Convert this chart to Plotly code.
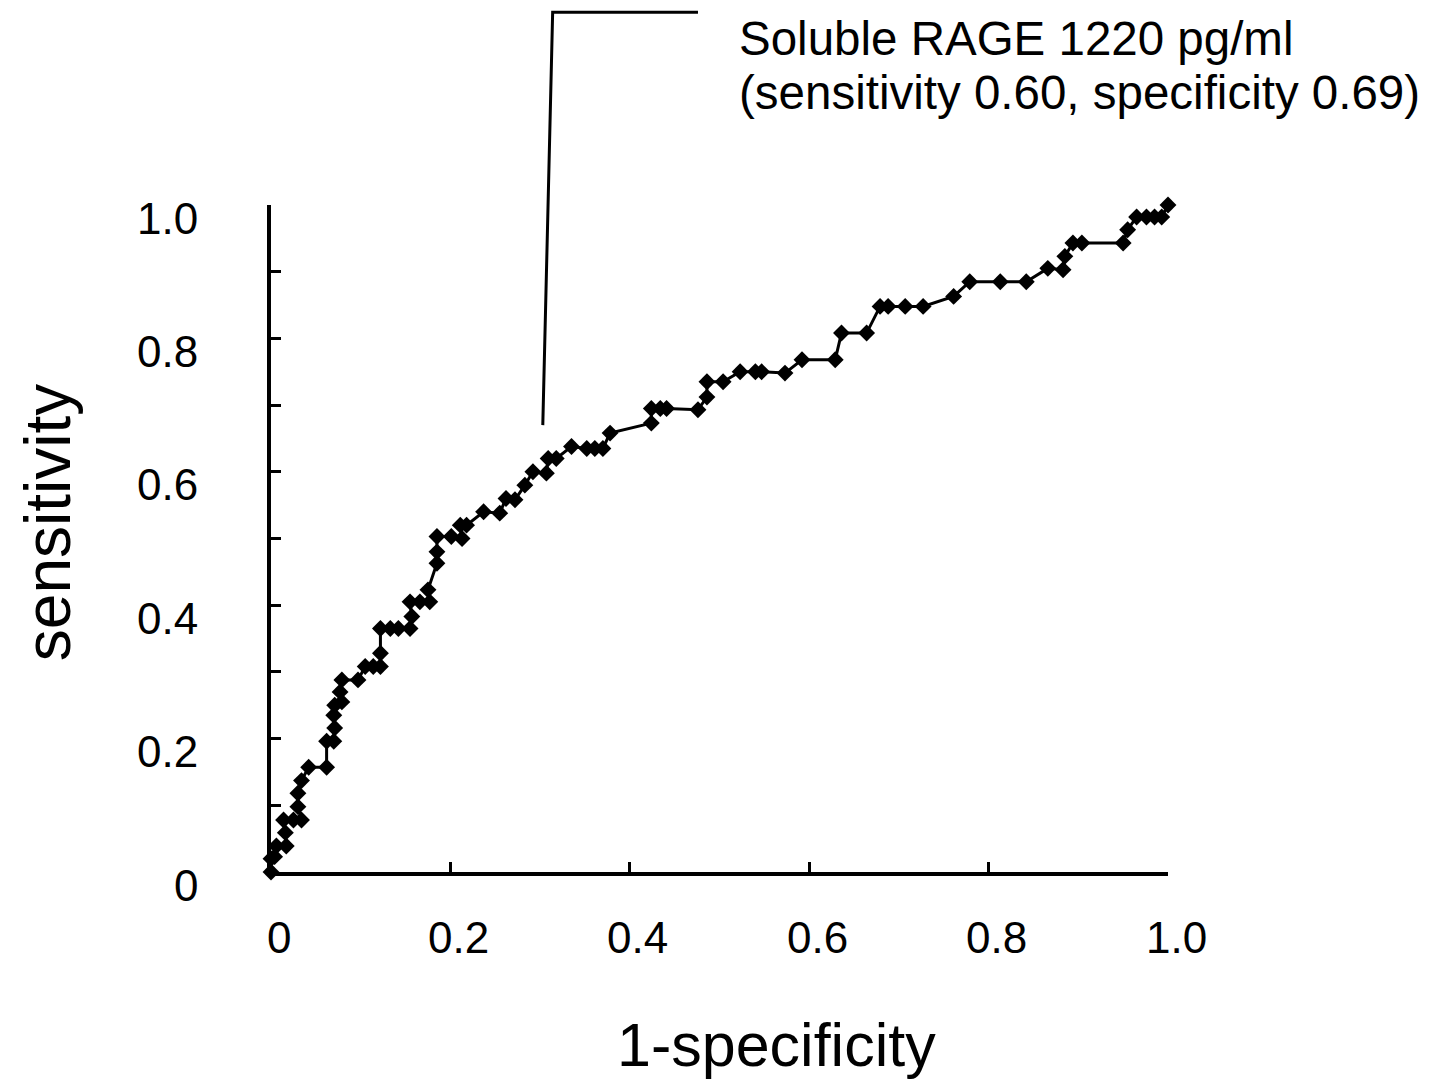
import plotly.graph_objects as go

# ROC curve points (1-specificity, sensitivity)
fpr = [0.000, 0.000, 0.004, 0.006, 0.017, 0.016, 0.014, 0.025, 0.034, 0.030,
       0.030, 0.034, 0.042, 0.062, 0.062, 0.070, 0.071, 0.070, 0.071, 0.079,
       0.077, 0.079, 0.097, 0.105, 0.114, 0.122, 0.122, 0.122, 0.133, 0.142,
       0.155, 0.157, 0.155, 0.166, 0.177, 0.175, 0.185, 0.185, 0.185, 0.201,
       0.213, 0.211, 0.218, 0.237, 0.255, 0.262, 0.272, 0.283, 0.292, 0.307,
       0.309, 0.318, 0.335, 0.352, 0.361, 0.370, 0.378, 0.424, 0.424, 0.434,
       0.441, 0.476, 0.486, 0.486, 0.504, 0.523, 0.540, 0.547, 0.573, 0.592,
       0.629, 0.636, 0.664, 0.679, 0.688, 0.707, 0.727, 0.761, 0.779, 0.813,
       0.842, 0.866, 0.883, 0.885, 0.894, 0.904, 0.950, 0.955, 0.965, 0.976,
       0.985, 0.993, 1.000]
tpr = [0.000, 0.020, 0.023, 0.039, 0.039, 0.059, 0.078, 0.078, 0.078, 0.098,
       0.118, 0.137, 0.157, 0.157, 0.196, 0.196, 0.216, 0.235, 0.250, 0.255,
       0.270, 0.288, 0.288, 0.308, 0.308, 0.308, 0.328, 0.365, 0.365, 0.365,
       0.365, 0.383, 0.405, 0.405, 0.405, 0.423, 0.463, 0.480, 0.503, 0.503,
       0.500, 0.520, 0.520, 0.540, 0.538, 0.560, 0.558, 0.580, 0.600, 0.598,
       0.620, 0.620, 0.638, 0.635, 0.635, 0.635, 0.658, 0.673, 0.695, 0.695,
       0.695, 0.693, 0.712, 0.735, 0.735, 0.750, 0.750, 0.750, 0.748, 0.768,
       0.768, 0.808, 0.808, 0.848, 0.848, 0.848, 0.848, 0.863, 0.885, 0.885,
       0.885, 0.905, 0.903, 0.923, 0.943, 0.943, 0.943, 0.963, 0.982, 0.982,
       0.982, 0.982, 1.000]

x_tick_vals = [0, 0.2, 0.4, 0.6, 0.8, 1.0]
x_tick_text = ["0", "0.2", "0.4", "0.6", "0.8", "1.0"]
y_tick_vals = [0, 0.2, 0.4, 0.6, 0.8, 1.0]
y_tick_text = ["0", "0.2", "0.4", "0.6", "0.8", "1.0"]
y_minor_vals = [0, 0.1, 0.2, 0.3, 0.4, 0.5, 0.6, 0.7, 0.8, 0.9, 1.0]

callout_line1 = "Soluble RAGE 1220 pg/ml"
callout_line2 = "(sensitivity 0.60, specificity 0.69)"
# callout leader line (paper coords == data coords, axes span [0,1])
callout_x = [0.303, 0.314, 0.476]
callout_y = [0.670, 1.289, 1.289]

x_title = "1-specificity"
y_title = "sensitivity"

FONT = "Arial, Liberation Sans, sans-serif"

fig = go.Figure()
fig.add_trace(go.Scatter(
    x=fpr, y=tpr, mode="lines+markers",
    line=dict(color="black", width=3),
    marker=dict(symbol="diamond", size=13, color="black"),
    cliponaxis=False, showlegend=False, hoverinfo="x+y",
))

path = "M {} {} L {} {} L {} {}".format(
    callout_x[0], callout_y[0], callout_x[1], callout_y[1], callout_x[2], callout_y[2])
fig.add_shape(type="path", path=path, xref="paper", yref="paper",
              line=dict(color="black", width=3))

annotations = []
for v, t in zip(x_tick_vals, x_tick_text):
    annotations.append(dict(x=v, y=0, xref="x", yref="paper", text=t, showarrow=False,
                            xanchor="center", yanchor="middle", xshift=8, yshift=-65,
                            font=dict(family=FONT, size=44, color="black")))
for v, t in zip(y_tick_vals, y_tick_text):
    annotations.append(dict(x=0, y=v, xref="paper", yref="y", text=t, showarrow=False,
                            xanchor="right", yanchor="middle", xshift=-71, yshift=-13,
                            font=dict(family=FONT, size=44, color="black")))
annotations.append(dict(x=0.519, y=1.250, xref="paper", yref="paper", text=callout_line1,
                        showarrow=False, xanchor="left", yanchor="middle",
                        font=dict(family=FONT, size=47.5, color="black")))
annotations.append(dict(x=0.519, y=1.169, xref="paper", yref="paper", text=callout_line2,
                        showarrow=False, xanchor="left", yanchor="middle",
                        font=dict(family=FONT, size=47.5, color="black")))
annotations.append(dict(x=0.563, y=-0.259, xref="paper", yref="paper", text=x_title,
                        showarrow=False, xanchor="center", yanchor="middle",
                        font=dict(family=FONT, size=61, color="black")))
annotations.append(dict(x=-0.2486, y=0.523, xref="paper", yref="paper", text=y_title,
                        showarrow=False, xanchor="center", yanchor="middle", textangle=-90,
                        font=dict(family=FONT, size=64, color="black")))

fig.update_layout(
    width=1418, height=1072,
    margin=dict(l=263, r=258, t=197, b=208),
    paper_bgcolor="white", plot_bgcolor="white",
    annotations=annotations,
    font=dict(family=FONT, color="black"),
    xaxis=dict(range=[0, 1], showgrid=False, zeroline=False, showline=True,
               linecolor="black", linewidth=3.5, ticks="inside", tickvals=x_tick_vals,
               ticklen=10, tickwidth=3, tickcolor="black", showticklabels=False,
               layer="below traces", fixedrange=True),
    yaxis=dict(range=[0, 1], showgrid=False, zeroline=False, showline=True,
               linecolor="black", linewidth=3.5, ticks="inside", tickvals=y_minor_vals,
               ticklen=10, tickwidth=3, tickcolor="black", showticklabels=False,
               layer="below traces", fixedrange=True),
)

fig.write_html("out.html")
